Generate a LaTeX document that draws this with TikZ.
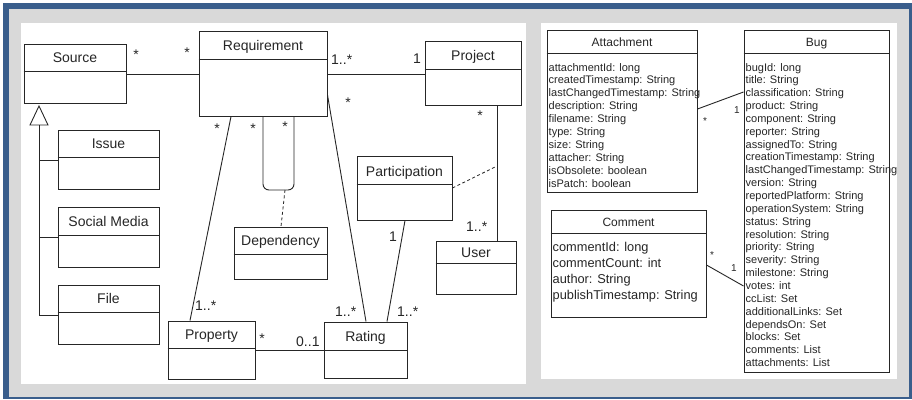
\documentclass[tikz,border=0pt]{standalone}
\usepackage{fontspec}
\setmainfont{Liberation Sans}
\usetikzlibrary{fit}

\definecolor{framebl}{RGB}{58,94,140}
\definecolor{panelgr}{RGB}{217,217,217}
\definecolor{ink}{RGB}{38,38,38}

% one UML class: outer box node plus the line under its header
\newcommand\umlbox[6]{%
  \node[classbox, fit={(#2,#3) (#4,#5)}] (#1) {};
  \draw[classline] (#1.west |- 0,#6) -- (#1.east |- 0,#6);
}

\begin{document}
\begin{tikzpicture}[x=1pt, y=-1pt,
  classbox/.style={draw=ink, line width=1pt, inner sep=0pt, fill=white},
  classline/.style={draw=ink, line width=1pt},
  assoc/.style={draw=ink, line width=0.9pt},
  dashline/.style={draw=ink, line width=0.8pt, dash pattern=on 3pt off 2.5pt},
  bigtitle/.style={font=\fontsize{14}{16}\selectfont, text=ink, inner sep=0pt, anchor=base},
  smalltitle/.style={font=\fontsize{12}{14}\selectfont, text=ink, inner sep=0pt, anchor=base},
  mult/.style={font=\fontsize{14}{16}\selectfont, text=ink, inner sep=0pt, anchor=base west},
  star/.style={font=\fontsize{14}{16}\selectfont, text=ink, inner sep=0pt, anchor=base},
  smult/.style={font=\fontsize{10}{12}\selectfont, text=ink, inner sep=0pt},
  attr/.style={font=\fontsize{11}{13}\selectfont, text=ink, inner sep=0pt, anchor=base west},
  battr/.style={font=\fontsize{12.8}{15}\selectfont, text=ink, inner sep=0pt, anchor=base west}]

\useasboundingbox (0,0) rectangle (912,399);

% frame and panels
\fill[framebl] (3,3) rectangle (912,399);
\fill[panelgr] (9,9) rectangle (908.5,396.5);
\fill[white] (21,23) rectangle (526,384);
\fill[white] (541,23) rectangle (897,379);

% ---------------- domain model ----------------
\umlbox{src}{24}{44}{126}{103}{71}
\node[bigtitle] (srcT) at (75,62.5) {Source};
\umlbox{req}{199}{31}{327}{116}{59}
\node[bigtitle] (reqT) at (263,50) {Requirement};
\umlbox{proj}{425}{41}{521}{105}{69}
\node[bigtitle] (projT) at (473,60) {Project};
\umlbox{iss}{58}{130}{159}{189}{157}
\node[bigtitle] (issT) at (108.5,148.5) {Issue};
\umlbox{soc}{58}{207}{159}{267}{235}
\node[bigtitle] (socT) at (108.5,226) {Social Media};
\umlbox{fil}{58}{285}{159}{344}{312}
\node[bigtitle] (filT) at (108.5,303.5) {File};
\umlbox{dep}{234}{227}{327}{279}{254}
\node[bigtitle] (depT) at (280.5,245.5) {Dependency};
\umlbox{part}{357}{156}{452}{220}{184}
\node[bigtitle] (partT) at (404.5,176) {Participation};
\umlbox{usr}{436}{241}{516}{294}{263}
\node[bigtitle] (usrT) at (476,257.5) {User};
\umlbox{prop}{168}{321}{255}{379}{348}
\node[bigtitle] (propT) at (211.5,339.5) {Property};
\umlbox{rat}{324}{322}{407}{378}{350}
\node[bigtitle] (ratT) at (365.5,341) {Rating};

% generalization of the sources: hollow triangle and the tree below it
\coordinate (genapex) at (39,106);
\coordinate (genbase) at (39,125);
\coordinate (genbot) at (39,316);
\draw[assoc, fill=white, line join=miter] (genapex) -- (30,125) -- (48,125) -- cycle;
\draw[assoc] (genbase) -- (genbot);
\draw[assoc] (39,160) -- (iss.west |- 0,160);
\draw[assoc] (39,237) -- (soc.west |- 0,237);
\draw[assoc] (39,315) -- (fil.west |- 0,315);

% associations
\draw[assoc] (src.east |- 0,74) -- (req.west |- 0,74);
\draw[assoc] (req.east |- 0,74) -- (proj.west |- 0,74);
\draw[assoc] (req.south -| 231,0) -- (prop.north -| 190,0);
\draw[assoc] (req.east |- 0,95) -- (rat.north -| 366,0);
\draw[assoc] (part.south -| 405,0) -- (rat.north -| 387,0);
\draw[assoc] (proj.south -| 497,0) -- (usr.north -| 497,0);
\draw[assoc] (prop.east |- 0,350) -- (rat.west |- 0,350);
\draw[assoc, rounded corners=6pt] (req.south -| 263,0) -- (263,190) -- (294,190) -- (req.south -| 294,0);

% association classes
\coordinate (loopb) at (285,190);
\draw[dashline] (loopb) -- (dep.north -| 281,0);
\coordinate (puser) at (495,167);
\draw[dashline] (part.east |- 0,188) -- (puser);

% multiplicities
\node[star] (m1) at (136,59) {*};
\node[star] (m2) at (187,57) {*};
\node[mult] (m3) at (331,64) {1..*};
\node[mult] (m4) at (413,63) {1};
\node[star] (m5) at (348,107) {*};
\node[star] (m6) at (217,133) {*};
\node[star] (m7) at (253,133) {*};
\node[star] (m8) at (285,131) {*};
\node[star] (m9) at (480,120) {*};
\node[mult] (m10) at (466,231) {1..*};
\node[mult] (m11) at (389,241) {1};
\node[mult] (m12) at (335,316) {1..*};
\node[mult] (m13) at (397,316) {1..*};
\node[mult] (m14) at (195,310) {1..*};
\node[star] (m15) at (262,343) {*};
\node[mult] (m16) at (296,346) {0..1};

% ---------------- bug tracker schema ----------------
\umlbox{att}{547}{30}{697}{192}{53}
\node[smalltitle] (attT) at (622,46) {Attachment};
\umlbox{bug}{744}{30}{889}{372}{53}
\node[smalltitle] (bugT) at (816.5,46) {Bug};
\umlbox{com}{551}{210}{706}{317}{233}
\node[smalltitle] (comT) at (628.5,226) {Comment};

\foreach \t [count=\i] in {attachmentId: long, createdTimestamp: String,
  lastChangedTimestamp: String, description: String, filename: String,
  type: String, size: String, attacher: String, isObsolete: boolean,
  isPatch: boolean}
  \node[attr] (att\i) at (548.5,{71+(\i-1)*12.9}) {\t};

\foreach \t [count=\i] in {bugId: long, title: String, classification: String,
  product: String, component: String, reporter: String, assignedTo: String,
  creationTimestamp: String, lastChangedTimestamp: String, version: String,
  reportedPlatform: String, operationSystem: String, status: String,
  resolution: String, priority: String, severity: String, milestone: String,
  votes: int, ccList: Set, additionalLinks: Set, dependsOn: Set, blocks: Set,
  comments: List, attachments: List}
  \node[attr] (bug\i) at (745.5,{71+(\i-1)*12.85}) {\t};

\foreach \t [count=\i] in {commentId: long, commentCount: int, author: String,
  publishTimestamp: String}
  \node[battr] (com\i) at (552.5,{251+(\i-1)*16}) {\t};

\draw[assoc] (att.east |- 0,109) -- (bug.west |- 0,92);
\draw[assoc] (com.east |- 0,265) -- (bug.west |- 0,286);
\node[smult] (s1) at (705,121) {*};
\node[smult] (s2) at (737,110) {1};
\node[smult] (s3) at (712,255) {*};
\node[smult] (s4) at (734,268) {1};

\end{tikzpicture}
\end{document}
